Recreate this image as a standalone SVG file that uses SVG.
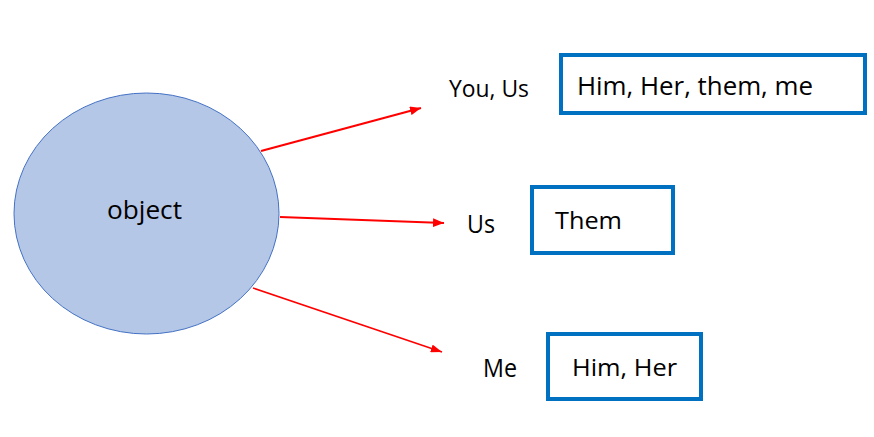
<svg xmlns="http://www.w3.org/2000/svg" width="874" height="437" viewBox="0 0 874 437">
<style>
text{font-family:"Open Sans","Noto Sans","Liberation Sans",sans-serif;fill:#000}
.box{fill:#fff;stroke:#0070C0;stroke-width:4}
.arr{stroke:#FF0000;fill:none}
.lbl{font-weight:500}
</style>
<defs>
<marker id="ah" viewBox="0 0 10 10" refX="10" refY="5" markerWidth="5" markerHeight="4" markerUnits="strokeWidth" orient="auto" preserveAspectRatio="none">
<path d="M0,0 L10,5 L0,10 z" fill="#FF0000"/>
</marker>
<marker id="ah2" viewBox="0 0 10 10" refX="10" refY="5" markerWidth="7" markerHeight="5" markerUnits="strokeWidth" orient="auto" preserveAspectRatio="none">
<path d="M0,0 L10,5 L0,10 z" fill="#FF0000"/>
</marker>
</defs>
<g id="object">
<ellipse cx="146.5" cy="213.5" rx="132.5" ry="120.5" fill="#B4C7E7" stroke="#4472C4" stroke-width="1"/>
<text x="107" y="219" font-size="25" textLength="75" lengthAdjust="spacingAndGlyphs">object</text>
</g>
<g id="connectors">
<line class="arr" x1="261" y1="151" x2="421" y2="108" stroke-width="2.2" marker-end="url(#ah)"/>
<line class="arr" x1="280" y1="217" x2="444" y2="223" stroke-width="2.2" marker-end="url(#ah)"/>
<line class="arr" x1="253" y1="288" x2="442" y2="352" stroke-width="1.6" marker-end="url(#ah2)"/>
</g>
<g id="label-you-us">
<text class="lbl" x="449" y="97" font-size="23" textLength="80" lengthAdjust="spacingAndGlyphs">You, Us</text>
</g>
<g id="label-us">
<text class="lbl" x="467" y="233" font-size="26" textLength="28" lengthAdjust="spacingAndGlyphs">Us</text>
</g>
<g id="label-me">
<text class="lbl" x="483" y="377" font-size="26" textLength="34" lengthAdjust="spacingAndGlyphs">Me</text>
</g>
<g id="box-him-her-them-me">
<rect class="box" x="561" y="55" width="304" height="58"/>
<text x="577" y="95" font-size="25" textLength="236" lengthAdjust="spacingAndGlyphs">Him, Her, them, me</text>
</g>
<g id="box-them">
<rect class="box" x="532" y="187" width="141" height="66"/>
<text x="555" y="229" font-size="24" textLength="67" lengthAdjust="spacingAndGlyphs">Them</text>
</g>
<g id="box-him-her">
<rect class="box" x="548" y="334" width="153" height="65"/>
<text x="572" y="376" font-size="24" textLength="105" lengthAdjust="spacingAndGlyphs">Him, Her</text>
</g>
</svg>
